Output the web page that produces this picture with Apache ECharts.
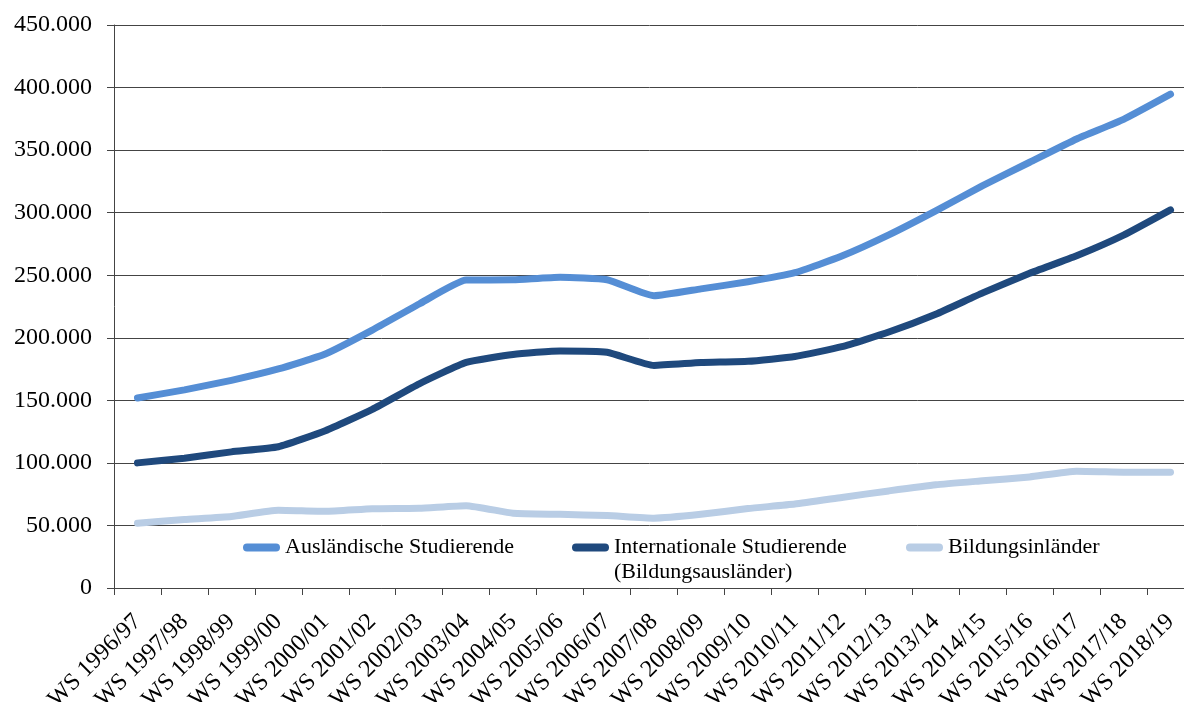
<!DOCTYPE html>
<html>
<head>
<meta charset="utf-8">
<script src="https://cdn.jsdelivr.net/npm/echarts@6/dist/echarts.min.js"></script>
<style>
  html, body { margin: 0; padding: 0; background: #fff; }
  #chart { width: 1184px; height: 702px; }
</style>
</head>
<body>
<div id="chart"></div>
<script>
const semesters = [
  'WS 1996/97', 'WS 1997/98', 'WS 1998/99', 'WS 1999/00', 'WS 2000/01', 'WS 2001/02',
  'WS 2002/03', 'WS 2003/04', 'WS 2004/05', 'WS 2005/06', 'WS 2006/07', 'WS 2007/08',
  'WS 2008/09', 'WS 2009/10', 'WS 2010/11', 'WS 2011/12', 'WS 2012/13', 'WS 2013/14',
  'WS 2014/15', 'WS 2015/16', 'WS 2016/17', 'WS 2017/18', 'WS 2018/19'
]
const auslaendische = [
  151900, 158400, 166000, 175100, 187000, 206100, 227000, 246100, 246300, 248400, 246400, 233600,
  239100, 244800, 252000, 265300, 282200, 301400, 321600, 340300, 358900, 374600, 394700
]
const bildungsauslaender = [
  100000, 103700, 108800, 112900, 125700, 142800, 163200, 180300, 186700, 189500, 188400, 177900,
  180200, 181200, 185000, 192900, 204600, 218800, 235900, 251500, 265500, 282000, 302200
]
const bildungsinlaender = [
  51800, 54700, 57200, 62200, 61300, 63400, 63800, 65800, 59700, 58900, 57900, 55800,
  58900, 63500, 67100, 72400, 77600, 82500, 85700, 88800, 93400, 92600, 92500
]

const names = ['Ausländische Studierende', 'Internationale Studierende (Bildungsausländer)', 'Bildungsinländer']
const colors = ['#558ed5', '#1f497d', '#b9cde5']
const font = "'Liberation Serif', 'Times New Roman', serif"
const pill = 'path://M4,0 L33,0 A4,4 0 0 1 33,8 L4,8 A4,4 0 0 1 4,0 Z'

const chart = echarts.init(document.getElementById('chart'))

function legendItem(i, left, top, extra) {
  return Object.assign({
    data: [names[i]],
    left: left,
    top: top,
    padding: 0,
    icon: pill,
    itemWidth: 37,
    itemHeight: 8,
    itemGap: 0,
    textStyle: { fontFamily: font, fontSize: 22, color: '#000', lineHeight: 25 },
  }, extra || {})
}

function line(i, data) {
  return {
    name: names[i],
    type: 'line',
    data: data,
    smooth: 0.15,
    showSymbol: false,
    symbol: 'none',
    lineStyle: { width: 7, color: colors[i], cap: 'round', join: 'round' },
    itemStyle: { color: colors[i] },
    z: 3 - i,
  }
}

const option = {
  animation: false,
  textStyle: { fontFamily: font },
  // Achse läuft rechts über den Bildrand hinaus
  grid: { left: 114, right: -10, top: 25, bottom: 114, containLabel: false, outerBoundsMode: 'none' },
  legend: [
    legendItem(0, 243, 535),
    legendItem(1, 572, 510, {
      // leere erste Zeile, damit das Symbol auf Höhe der ersten Textzeile sitzt
      formatter: () => '\u00a0\nInternationale Studierende\n(Bildungsausländer)',
    }),
    legendItem(2, 906, 535),
  ],
  xAxis: {
    type: 'category',
    data: semesters,
    boundaryGap: true,
    axisLine: { lineStyle: { color: '#444', width: 1 } },
    axisTick: { show: true, length: 7, lineStyle: { color: '#444' } },
    axisLabel: {
      rotate: 45,
      margin: 30,
      interval: 0,
      fontFamily: font,
      fontSize: 24,
      color: '#000',
    },
  },
  yAxis: {
    type: 'value',
    min: 0,
    max: 450000,
    interval: 50000,
    axisLine: { show: true, lineStyle: { color: '#444', width: 1 } },
    axisTick: { show: true, length: 7, lineStyle: { color: '#444' } },
    splitLine: { lineStyle: { color: '#444', width: 1 } },
    axisLabel: {
      margin: 22,
      fontFamily: font,
      fontSize: 24,
      color: '#000',
      formatter: v => v === 0 ? '0' : (v / 1000).toFixed(0) + '.000',
    },
  },
  series: [
    line(0, auslaendische),
    line(1, bildungsauslaender),
    line(2, bildungsinlaender),
  ],
}

chart.setOption(option)
window.addEventListener('resize', () => {
  chart.resize()
})
</script>
</body>
</html>
